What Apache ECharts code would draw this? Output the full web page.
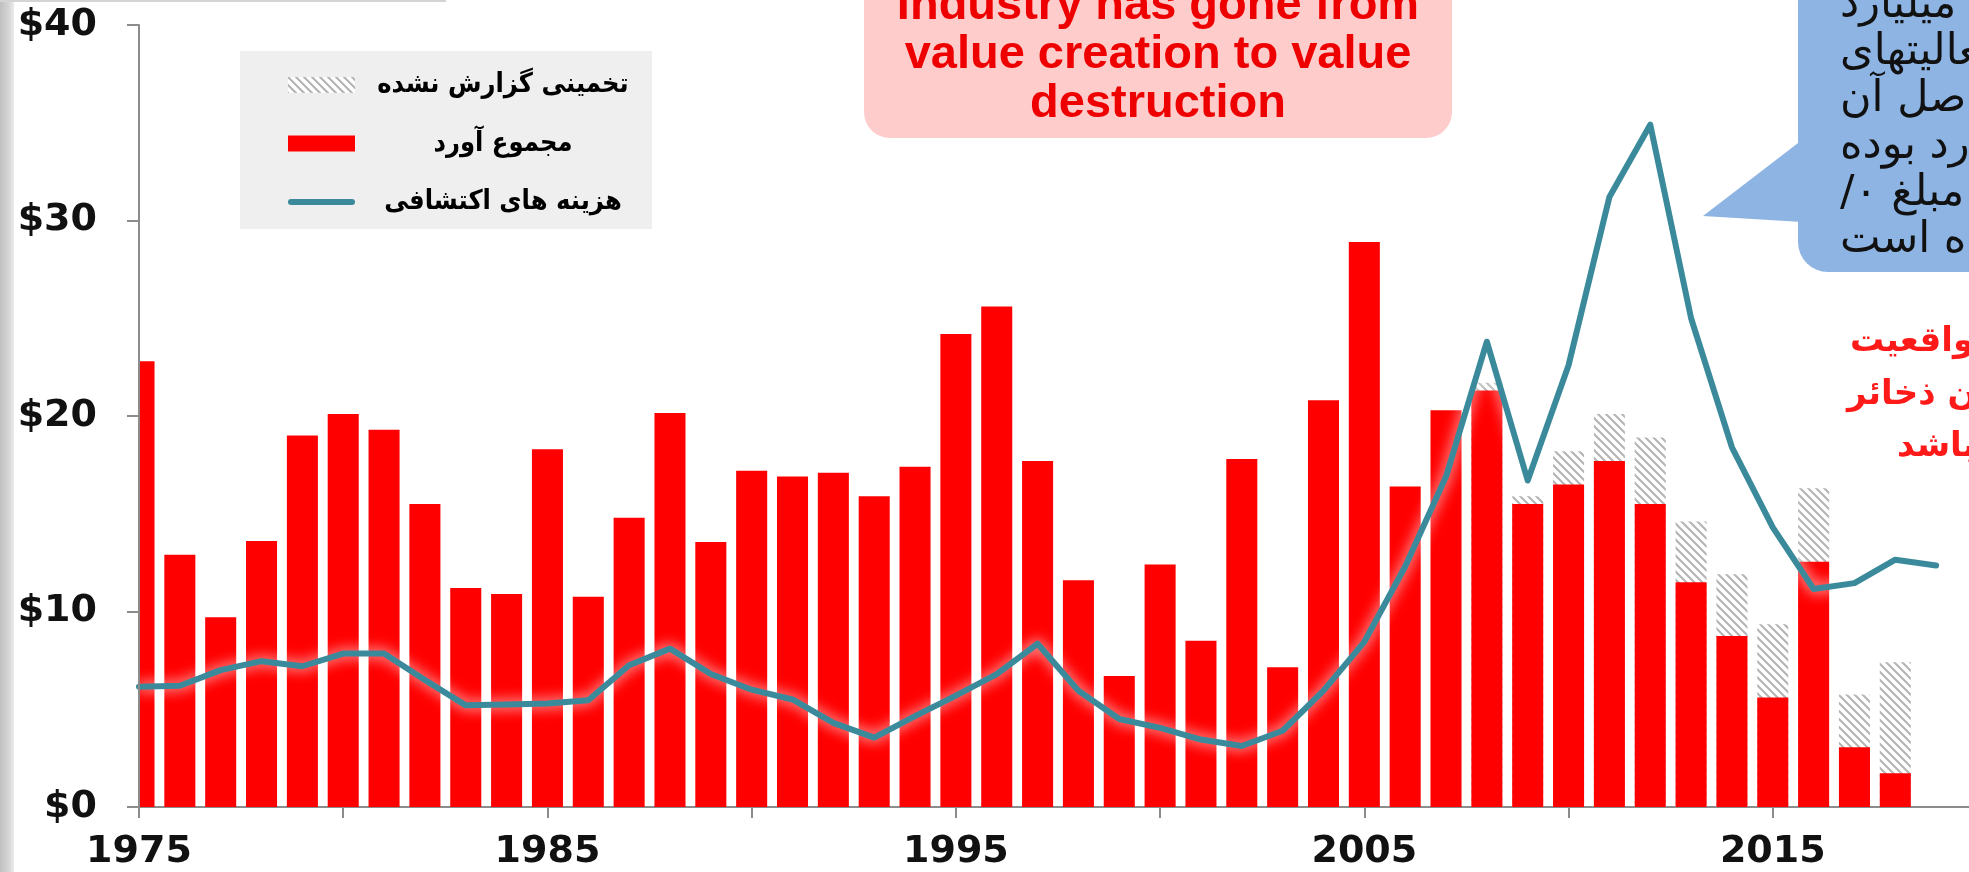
<!DOCTYPE html>
<html><head><meta charset="utf-8">
<script src="https://cdn.jsdelivr.net/npm/echarts@6/dist/echarts.min.js"></script>
<style>html,body{margin:0;padding:0;background:#fff;overflow:hidden}#c{width:1969px;height:872px}</style>
</head><body><div id="c"></div>
<script>
// ---- data ----
const barYears = [1975,1976,1977,1978,1979,1980,1981,1982,1983,1984,1985,1986,1987,1988,1989,1990,1991,1992,1993,1994,1995,1996,1997,1998,1999,2000,2001,2002,2003,2004,2005,2006,2007,2008,2009,2010,2011,2012,2013,2014,2015,2016,2017,2018];
const reported = [22.8,12.9,9.7,13.6,19.0,20.1,19.3,15.5,11.2,10.9,18.3,10.75,14.8,20.15,13.55,17.2,16.9,17.1,15.9,17.4,24.2,25.6,17.7,11.6,6.7,12.4,8.5,17.8,7.15,20.8,28.9,16.4,20.3,21.3,15.5,16.5,17.7,15.5,11.5,8.75,5.6,12.55,3.05,1.72];
const estYears = [2008,2009,2010,2011,2012,2013,2014,2015,2016,2017,2018];
const estimatedTotal = [21.7,15.9,18.2,20.1,18.9,14.6,11.9,9.35,16.3,5.76,7.4];
const lineYears = [1975,1976,1977,1978,1979,1980,1981,1982,1983,1984,1985,1986,1987,1988,1989,1990,1991,1992,1993,1994,1995,1996,1997,1998,1999,2000,2001,2002,2003,2004,2005,2006,2007,2008,2009,2010,2011,2012,2013,2014,2015,2016,2017,2018,2019];
const exploration = [6.15,6.2,7.0,7.46,7.2,7.85,7.85,6.5,5.2,5.24,5.3,5.46,7.25,8.1,6.8,6.0,5.5,4.3,3.55,4.65,5.7,6.8,8.35,5.95,4.5,4.05,3.45,3.12,3.9,5.95,8.45,12.3,16.9,23.8,16.7,22.6,31.2,34.9,25.0,18.4,14.3,11.15,11.45,12.65,12.35];
const xLabelYears = [1975,1985,1995,2005,2015];
const seriesNames = ['تخمینی گزارش نشده','مجموع آورد','هزینه های اکتشافی'];
const boxText = ['Industry has gone from','value creation to value','destruction'];
const calloutLines = ['میلیارد','فعالیتهای','حاصل آن','میلیارد بوده','مبلغ ۰/','شده است'];
const redLines = ['در واقعیت','میزان ذخائر','می باشد'];

// ---- styles ----
function hatch(bg){
  const c=document.createElement('canvas'); c.width=8; c.height=8;
  const g=c.getContext('2d'); g.fillStyle=bg; g.fillRect(0,0,8,8);
  g.strokeStyle='#b4b4b4'; g.lineWidth=2.1; g.beginPath();
  g.moveTo(-2,-2); g.lineTo(10,10); g.moveTo(-2,6); g.lineTo(2,10); g.moveTo(6,-2); g.lineTo(10,2);
  g.stroke(); return c;
}
const hatchFill = {image: hatch('#ffffff'), repeat: 'repeat'};
const RED = '#ff0000', TEAL = '#3b8a9b';
const BAR_W_YEARS = 0.76;
const FONT_AX = 'DejaVu Sans';
const RLE = '\u202B', PDF = '\u202C';

function barRender(fill){
  return function(params, api){
    const x = api.value(0), v = api.value(1);
    const base = api.coord([x, 0]), top = api.coord([x, v]);
    const w = api.size([BAR_W_YEARS, 0])[0];
    const cs = params.coordSys;
    const r = echarts.graphic.clipRectByRect(
      {x: base[0]-w/2, y: top[1], width: w, height: base[1]-top[1]},
      {x: cs.x, y: cs.y, width: cs.width, height: cs.height});
    if (!r) return null;
    return {type:'rect', shape:r, style:{fill:fill}};
  };
}

const chart = echarts.init(document.getElementById('c'), null, {renderer:'canvas'});

const graphic = [
  {type:'rect', shape:{x:0,y:0,width:14,height:872}, style:{fill:{type:'linear',x:0,y:0,x2:1,y2:0,colorStops:[{offset:0,color:'#c0c0c0'},{offset:0.6,color:'#d4d4d4'},{offset:1,color:'#ececec'}]}}, silent:true},
  {type:'rect', shape:{x:0,y:0,width:446,height:2}, style:{fill:'#d4d4d4'}, silent:true},
  {type:'rect', shape:{x:864,y:-80,width:588,height:218,r:26}, style:{fill:'#ffcccc'}, silent:true},
  {type:'text', x:1158, y:-18, style:{text:boxText.join('\n'), fill:'#ee0000', font:'bold 47px "Liberation Sans", Arial, sans-serif', align:'center', verticalAlign:'top', lineHeight:49}, silent:true},
  {type:'polygon', shape:{points:[[1802,140],[1703,216],[1802,222]]}, style:{fill:'#8eb4e3'}, silent:true},
  {type:'rect', shape:{x:1798,y:-60,width:260,height:332,r:30}, style:{fill:'#8eb4e3'}, silent:true}
];
calloutLines.forEach((t,i)=>{
  graphic.push({type:'text', x:1840, y:6+47*i, style:{text:RLE+t+PDF, fill:'#111', font:'43px "DejaVu Sans", sans-serif', align:'left', verticalAlign:'middle'}, silent:true});
});
const redX = [1850,1847,1897];
const redY = [342,395,447];
redLines.forEach((t,i)=>{
  graphic.push({type:'text', x:redX[i], y:redY[i], style:{text:RLE+t+PDF, fill:'#ff1a1a', font:'bold 34px "DejaVu Sans", sans-serif', align:'left', verticalAlign:'middle'}, silent:true});
});

chart.setOption({
  animation:false,
  backgroundColor:'#ffffff',
  grid:{left:139, right:-8, top:25, bottom:65, containLabel:false, outerBoundsMode:'none'},
  legend:{
    orient:'vertical', left:240, top:51, padding:[19,6,12,48], backgroundColor:'#efefef',
    itemWidth:67, itemHeight:16, itemGap:28.5, symbolKeepAspect:true,
    data:[
      {name:seriesNames[0], icon:'rect'},
      {name:seriesNames[1], icon:'rect'},
      {name:seriesNames[2], icon:'path://M3,0 L64,0 A3,3 0 0 1 64,6 L3,6 A3,3 0 0 1 3,0 Z'}
    ],
    formatter: n => '{t|'+n+'}',
    textStyle:{rich:{t:{width:286, height:30, align:'center', fontSize:27, fontWeight:'bold', fontFamily:'"DejaVu Sans Condensed", "DejaVu Sans", sans-serif', color:'#000', lineHeight:30}}},
    selectedMode:false
  },
  xAxis:{
    type:'value', min:1975, max:2020, interval:5,
    axisLine:{show:true, lineStyle:{color:'#8c8c8c', width:2}},
    axisTick:{show:true, inside:false, length:11, lineStyle:{color:'#8c8c8c', width:2}},
    splitLine:{show:false},
    axisLabel:{show:true, margin:26, color:'#111', fontSize:38, fontWeight:'bold', fontFamily:FONT_AX,
      formatter: v => xLabelYears.indexOf(v) >= 0 ? String(v) : ''}
  },
  yAxis:{
    type:'value', min:0, max:40, interval:10, z:10,
    axisLine:{show:true, lineStyle:{color:'#8c8c8c', width:2}},
    axisTick:{show:true, inside:false, length:12, lineStyle:{color:'#8c8c8c', width:2}},
    splitLine:{show:false},
    axisLabel:{show:true, margin:42, color:'#111', fontSize:38, fontWeight:'bold', fontFamily:FONT_AX,
      padding:[8,0,0,0], formatter: v => '$' + v}
  },
  series:[
    {name:seriesNames[0], type:'custom', z:2, itemStyle:{color:hatchFill},
      encode:{x:0, y:1}, renderItem: barRender(hatchFill),
      data: estYears.map((y,i)=>[y, estimatedTotal[i]])},
    {name:seriesNames[1], type:'custom', z:3, itemStyle:{color:RED},
      encode:{x:0, y:1}, renderItem: barRender(RED),
      data: barYears.map((y,i)=>[y, reported[i]])},
    {name:seriesNames[2], type:'line', symbol:'none', showSymbol:false, z:5, smooth:false,
      lineStyle:{color:TEAL, width:6, cap:'round', join:'round', shadowColor:'rgba(255,255,255,0.95)', shadowBlur:14},
      itemStyle:{color:TEAL},
      data: lineYears.map((y,i)=>[y, exploration[i]])}
  ],
  graphic: graphic
});
</script></body></html>
